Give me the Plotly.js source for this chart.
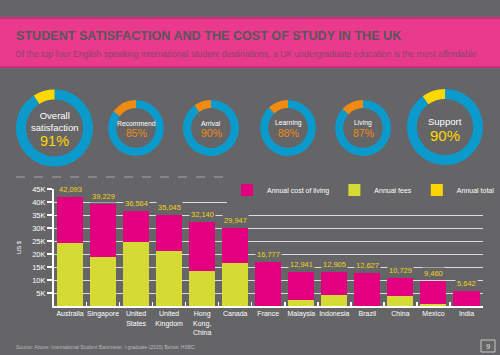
<!DOCTYPE html>
<html><head><meta charset="utf-8">
<script src="https://cdn.plot.ly/plotly-3.0.1.min.js"></script>
<style>html,body{margin:0;padding:0;background:#656567;} #chart{width:500px;height:355px;}</style>
</head><body><div id="chart"></div>
<script>
// ---- data ----
const countries = ["Australia","Singapore","United<br>States","United<br>Kingdom","Hong<br>Kong,<br>China","Canada","France","Malaysia","Indonesia","Brazil","China","Mexico","India"];
const annualTotal = [42093,39229,36564,35045,32140,29947,16777,12941,12905,12627,10729,9460,5642];
const annualFees = [24400,18700,24700,21200,13500,16500,0,2200,4200,0,3800,800,0];
const annualLiving = [17693,20529,11864,13845,18640,13447,16777,10741,8705,12627,6929,8660,5642];
const yTickVals = [5000,10000,15000,20000,25000,30000,35000,40000,45000];
const yTickText = ["5K","10K","15K","20K","25K","30K","35K","40K","45K"];
const gridVals = [5000,10000,15000,20000,25000,30000,35000,40000];
const satLabels = ["Overall<br>satisfaction","Recommend","Arrival","Learning","Living","Support"];
const satValues = [91,85,90,88,87,90];

// ---- style ----
const BG = "#656567";
const FONT = "'Liberation Sans', Arial, Helvetica, sans-serif";
const W = 500, H = 355;
const px = x => x / W;
const py = y => 1 - y / H;

// donut geometry (pixel boxes)
const donutBoxes = [
  {x0:16, x1:93, y0:89.5, y1:166.5, big:true},
  {x0:108, x1:164, y0:100, y1:156},
  {x0:183, x1:239, y0:100, y1:156},
  {x0:260, x1:316, y0:100, y1:156},
  {x0:335, x1:391, y0:100, y1:156},
  {x0:407, x1:483, y0:89, y1:165, big:true}
];
const BLUE = "#0a9acb", YEL = "#ffd800", ORANGE = "#ef8a12";

const traces = [];
satValues.forEach((v, i) => {
  const b = donutBoxes[i];
  traces.push({
    type: "pie",
    values: [v, 100 - v],
    marker: {colors: [BLUE, b.big ? YEL : ORANGE], line: {width: 0}},
    hole: b.big ? 0.74 : 0.71,
    sort: false,
    direction: "clockwise",
    rotation: 0,
    textinfo: "none",
    hoverinfo: "skip",
    showlegend: false,
    domain: {x: [px(b.x0), px(b.x1)], y: [py(b.y1), py(b.y0)]}
  });
});

traces.push({
  type: "bar", name: "Annual fees", x: countries, y: annualFees,
  marker: {color: "#d6da34", line: {width: 0}}, legendrank: 2, hoverinfo: "skip"
});
traces.push({
  type: "bar", name: "Annual cost of living", x: countries, y: annualLiving,
  marker: {color: "#e2007e", line: {width: 0}}, legendrank: 1, hoverinfo: "skip"
});
traces.push({
  type: "bar", name: "Annual total", x: countries, y: countries.map(() => null),
  marker: {color: "#ffd400"}, legendrank: 3, hoverinfo: "skip"
});
// empty trace to carry the grid axis
traces.push({type: "scatter", x: [], y: [], yaxis: "y2", showlegend: false, hoverinfo: "skip"});

const annotations = [];
const donutCenters = donutBoxes.map(b => ({cx: (b.x0 + b.x1) / 2, cy: (b.y0 + b.y1) / 2}));
satLabels.forEach((lab, i) => {
  const b = donutBoxes[i], c = donutCenters[i];
  if (i === 0) {
    annotations.push({xref:"paper", yref:"paper", x:px(c.cx), y:py(121), text:lab, showarrow:false,
      font:{family:FONT, size:9.5, color:"#ffffff"}, xanchor:"center", yanchor:"middle"});
    annotations.push({xref:"paper", yref:"paper", x:px(c.cx), y:py(141), text:satValues[i] + "%", showarrow:false,
      font:{family:FONT, size:14.5, color:YEL}, xanchor:"center", yanchor:"middle"});
  } else if (b.big) {
    annotations.push({xref:"paper", yref:"paper", x:px(c.cx), y:py(121), text:lab, showarrow:false,
      font:{family:FONT, size:9.5, color:"#ffffff"}, xanchor:"center", yanchor:"middle"});
    annotations.push({xref:"paper", yref:"paper", x:px(c.cx), y:py(136), text:satValues[i] + "%", showarrow:false,
      font:{family:FONT, size:15, color:YEL}, xanchor:"center", yanchor:"middle"});
  } else {
    annotations.push({xref:"paper", yref:"paper", x:px(c.cx), y:py(123), text:lab, showarrow:false,
      font:{family:FONT, size:6.8, color:"#ffffff"}, xanchor:"center", yanchor:"middle"});
    annotations.push({xref:"paper", yref:"paper", x:px(c.cx), y:py(133.5), text:satValues[i] + "%", showarrow:false,
      font:{family:FONT, size:10.5, color:ORANGE}, xanchor:"center", yanchor:"middle"});
  }
});
// totals above bars
annualTotal.forEach((t, i) => {
  annotations.push({xref:"x", yref:"y", x:i, y:t, yanchor:"bottom", yshift:1,
    text: t.toLocaleString("en-US"), showarrow:false, bgcolor:BG, borderpad:1,
    font:{family:FONT, size:7.5, color:"#f2d21c"}});
});
// subtitle
annotations.push({xref:"paper", yref:"paper", x:px(13), y:py(54), xanchor:"left", yanchor:"middle", showarrow:false,
  text:"Of the top four English speaking international student destinations, a UK undergraduate education is the most affordable",
  font:{family:FONT, size:8.7, color:"#85466c"}});
// source
annotations.push({xref:"paper", yref:"paper", x:px(14), y:py(347), xanchor:"left", yanchor:"middle", showarrow:false,
  text:"Source: Above: International Student Barometer, i-graduate (2015) Below: HSBC",
  font:{family:FONT, size:5, color:"#b8b8ba"}});
// page number
annotations.push({xref:"paper", yref:"paper", x:px(488), y:py(346), xanchor:"center", yanchor:"middle", showarrow:false,
  text:"9", font:{family:FONT, size:7.5, color:"#e0e0e0"}});

const shapes = [
  {type:"rect", xref:"paper", yref:"paper", x0:0, x1:1, y0:py(68), y1:py(17), fillcolor:"#ea3a8e",
    line:{width:0}, layer:"below"},
  {type:"line", xref:"paper", yref:"paper", x0:0, x1:1, y0:py(18), y1:py(18), line:{color:"#c92a78", width:1.5}, layer:"below"},
  {type:"line", xref:"paper", yref:"paper", x0:0, x1:1, y0:py(67), y1:py(67), line:{color:"#c92a78", width:1.5}, layer:"below"},
  {type:"line", xref:"paper", yref:"paper", x0:px(16), x1:px(484), y0:py(177), y1:py(177),
    line:{color:"#a9a9ab", width:1, dash:"dash"}},
  {type:"rect", xref:"paper", yref:"paper", x0:px(481), x1:px(495), y0:py(352), y1:py(340),
    line:{color:"#c8c8c8", width:1}, fillcolor:"rgba(0,0,0,0)"}
];

const layout = {
  width: W, height: H,
  margin: {l:0, r:0, t:0, b:0, pad:0},
  paper_bgcolor: BG, plot_bgcolor: "rgba(0,0,0,0)",
  font: {family: FONT, color: "#ffffff"},
  title: {text: "<b>STUDENT SATISFACTION AND THE COST OF STUDY IN THE UK</b>",
    x: px(16), xanchor: "left", xref: "paper", y: py(36), yanchor: "middle",
    font: {family: FONT, size: 12.6, color: "#57575a"}},
  barmode: "stack",
  bargap: 0.21,
  showlegend: true,
  legend: {orientation: "h", x: 1, xanchor: "right", y: py(190), yanchor: "middle",
    bgcolor: BG, font: {family: FONT, size: 7, color: "#ffffff"}, traceorder: "normal"},
  xaxis: {domain: [px(53.5), px(483)], type: "category", range: [-0.5, 12.5],
    showline: true, linecolor: "#ffffff", linewidth: 2,
    ticks: "inside", tickson: "boundaries", ticklen: 4, tickcolor: "#ffffff", tickwidth: 1.5,
    tickangle: 0,
    tickfont: {family: FONT, size: 7, color: "#ffffff"}, showgrid: false, fixedrange: true},
  yaxis: {domain: [py(306), py(189)], range: [0, 45000],
    tickvals: yTickVals, ticktext: yTickText, ticks: "outside", ticklen: 5, tickcolor: "#ffffff", tickwidth: 1.5,
    showline: true, linecolor: "#ffffff", linewidth: 1.5,
    showgrid: false, zeroline: false,
    tickfont: {family: FONT, size: 7.5, color: "#ffffff"},
    title: {text: "US $", font: {family: FONT, size: 6, color: "#ffffff"}, standoff: 10}, fixedrange: true},
  yaxis2: {overlaying: "y", range: [0, 45000], tickvals: gridVals, showticklabels: false, ticks: "",
    showline: false, zeroline: false, showgrid: true, gridcolor: "#dcdcdc", gridwidth: 1, fixedrange: true},
  annotations: annotations,
  shapes: shapes
};

Plotly.newPlot("chart", traces, layout, {displayModeBar: false, staticPlot: true});
</script>
</body></html>
